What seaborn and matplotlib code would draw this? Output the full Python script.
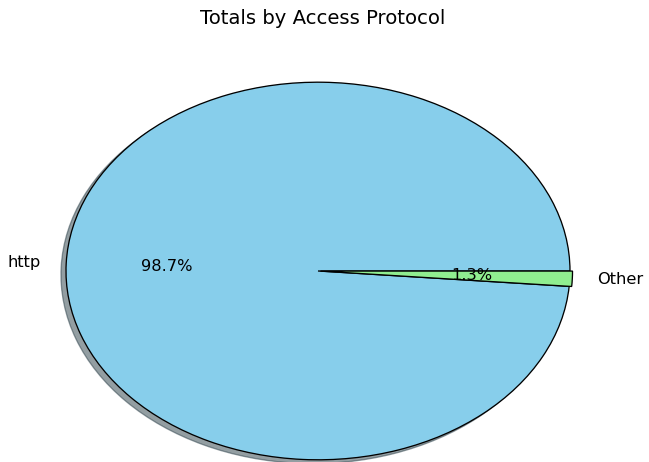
import matplotlib
matplotlib.use("Agg")
import matplotlib.pyplot as plt
import seaborn as sns

sns.set_theme(style="white")
plt.rcParams['font.family'] = ['DejaVu Sans']

protocols = ["http", "Other"]
shares = [98.7, 1.3]
slice_colors = ["skyblue", "lightgreen"]
offsets = [0.0, 0.01]

DPI = 72
fig = plt.figure(figsize=(649 / DPI, 462 / DPI), dpi=DPI)
ax = fig.add_axes([3 / 649, -45 / 462, 630 / 649, 472 / 462])

ax.pie(shares, labels=protocols, colors=slice_colors, explode=offsets,
       autopct="%1.1f%%", startangle=0, shadow=True,
       wedgeprops={"edgecolor": "black", "linewidth": 1.3},
       textprops={"fontsize": 16.3, "color": "black"})
ax.set_aspect("auto")
ax.set_xlim(-1.25, 1.25)
ax.set_ylim(-1.25, 1.25)

fig.text(322.5 / 649, 1 - 19 / 462, "Totals by Access Protocol",
         ha="center", va="center", fontsize=19.6, color="black")

fig.savefig("out.png", dpi=DPI)
